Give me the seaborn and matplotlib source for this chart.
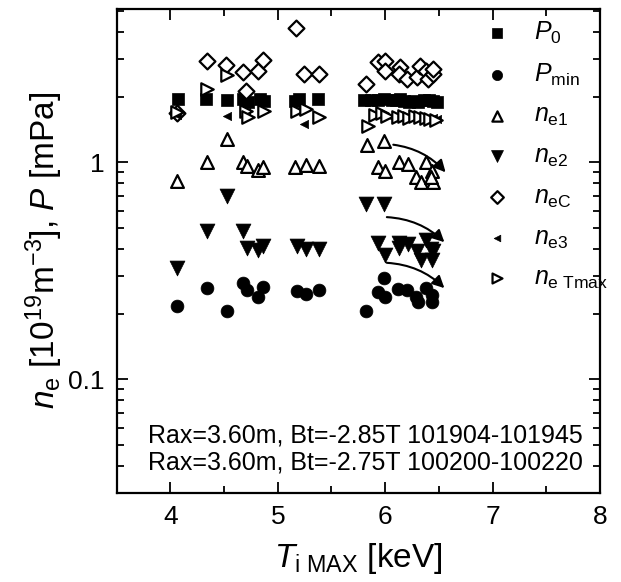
import matplotlib
matplotlib.use("Agg")
import matplotlib.pyplot as plt
from matplotlib.ticker import FixedLocator, MultipleLocator, NullFormatter, LogLocator
import seaborn as sns
import pandas as pd

# values (T_i,MAX [keV] vs density / pressure)
p0_x = [4.07, 4.33, 4.53, 4.68, 4.72, 4.83, 4.87, 5.16, 5.20, 5.37,
        5.80, 5.87, 5.93, 5.99, 6.06, 6.10, 6.14, 6.18, 6.22, 6.27, 6.31, 6.36, 6.41, 6.45, 6.48]
p0_y = [1.95, 1.96, 1.94, 1.96, 1.90, 1.95, 1.92, 1.92, 1.95, 1.96,
        1.93, 1.94, 1.94, 1.95, 1.93, 1.94, 1.95, 1.92, 1.90, 1.92, 1.90, 1.94, 1.93, 1.92, 1.90]

pmin_x = [4.06, 4.34, 4.53, 4.68, 4.71, 4.82, 4.86, 5.18, 5.26, 5.38,
          5.82, 5.93, 5.99, 6.00, 6.12, 6.20, 6.29, 6.31, 6.38, 6.44, 6.44]
pmin_y = [0.218, 0.264, 0.207, 0.279, 0.258, 0.240, 0.267, 0.255, 0.248, 0.258,
          0.207, 0.253, 0.293, 0.240, 0.260, 0.258, 0.240, 0.227, 0.264, 0.245, 0.227]

ne1_x = [4.06, 4.34, 4.53, 4.68, 4.71, 4.82, 4.86, 5.16, 5.26, 5.38,
         5.83, 5.99, 5.93, 6.00, 6.13, 6.21, 6.38, 6.29, 6.33, 6.44, 6.45, 6.43]
ne1_y = [0.82, 1.00, 1.28, 1.00, 0.96, 0.92, 0.95, 0.95, 0.97, 0.96,
         1.20, 1.25, 0.95, 0.91, 1.00, 0.98, 1.00, 0.86, 0.81, 0.91, 0.81, 0.86]

ne2_x = [4.06, 4.34, 4.53, 4.68, 4.71, 4.82, 4.86, 5.18, 5.26, 5.38,
         5.82, 5.99, 5.93, 6.00, 6.13, 6.13, 6.21, 6.38, 6.30, 6.33, 6.43, 6.44, 6.45]
ne2_y = [0.327, 0.485, 0.70, 0.485, 0.404, 0.396, 0.41, 0.41, 0.40, 0.40,
         0.64, 0.645, 0.426, 0.375, 0.426, 0.405, 0.42, 0.44, 0.39, 0.355, 0.40, 0.355, 0.39]

nec_x = [4.06, 4.34, 4.52, 4.68, 4.70, 4.82, 4.86, 5.17, 5.24, 5.38,
         5.82, 5.93, 6.00, 6.00, 6.14, 6.13, 6.20, 6.30, 6.32, 6.38, 6.40, 6.45, 6.45]
nec_y = [1.68, 2.93, 2.81, 2.61, 2.13, 2.64, 2.97, 4.17, 2.56, 2.56,
         2.30, 2.90, 2.93, 2.64, 2.75, 2.56, 2.42, 2.47, 2.78, 2.64, 2.42, 2.56, 2.70]

ne3_x = [4.06, 4.53, 4.70, 5.17, 5.24, 5.95, 6.05, 6.15, 6.25, 6.35, 6.45, 6.48]
ne3_y = [1.66, 1.63, 1.70, 1.72, 1.50, 1.65, 1.62, 1.62, 1.60, 1.60, 1.60, 1.58]

netmax_x = [4.06, 4.34, 4.53, 4.70, 4.72, 4.87, 5.18, 5.26, 5.38,
            5.84, 5.91, 5.97, 6.02, 6.12, 6.18, 6.22, 6.28, 6.32, 6.38, 6.42, 6.47]
netmax_y = [1.70, 2.18, 2.53, 1.72, 1.62, 1.72, 1.72, 1.76, 1.62,
            1.47, 1.66, 1.68, 1.64, 1.62, 1.64, 1.60, 1.63, 1.62, 1.60, 1.58, 1.57]

# trend arrows (start, end)
arrows = [((6.05, 1.21), (6.58, 0.88)),
          ((5.99, 0.56), (6.57, 0.42)),
          ((5.99, 0.345), (6.57, 0.258))]

notes = ["Rax=3.60m, Bt=-2.85T 101904-101945",
         "Rax=3.60m, Bt=-2.75T 100200-100220"]

series = [
    (p0_x, p0_y, r"$P_0$", "s", True, 70),
    (pmin_x, pmin_y, r"$P_\mathrm{min}$", "o", True, 85),
    (ne1_x, ne1_y, r"$n_\mathrm{e1}$", "^", False, 85),
    (ne2_x, ne2_y, r"$n_\mathrm{e2}$", "v", True, 115),
    (nec_x, nec_y, r"$n_\mathrm{eC}$", "D", False, 65),
    (ne3_x, ne3_y, r"$n_\mathrm{e3}$", "<", True, 35),
    (netmax_x, netmax_y, r"$n_\mathrm{e\ Tmax}$", ">", False, 80),
]

sns.set_style("ticks")
plt.rcParams["font.family"] = ["Liberation Sans", "DejaVu Sans"]
plt.rcParams["mathtext.fontset"] = "custom"
plt.rcParams["mathtext.rm"] = "Liberation Sans"
plt.rcParams["mathtext.it"] = "Liberation Sans:italic"
plt.rcParams["mathtext.bf"] = "Liberation Sans:bold"
for key in ["text.color", "axes.labelcolor", "xtick.color", "ytick.color", "axes.edgecolor"]:
    plt.rcParams[key] = "black"

fig = plt.figure(figsize=(6.21, 5.82), dpi=100)
ax = fig.add_axes([0.188, 0.153, 0.778, 0.832])

for xs, ys, lab, mk, filled, size in series:
    df = pd.DataFrame({"x": xs, "y": ys})
    if filled:
        sns.scatterplot(data=df, x="x", y="y", marker=mk, s=size, color="black",
                        edgecolor="black", linewidth=0.5, label=lab, ax=ax, zorder=3)
    else:
        sns.scatterplot(data=df, x="x", y="y", marker=mk, s=size, facecolor="white",
                        edgecolor="black", linewidth=1.6, label=lab, ax=ax, zorder=3)

for (x0, y0), (x1, y1) in arrows:
    ax.annotate("", xy=(x1, y1), xytext=(x0, y0),
                arrowprops=dict(arrowstyle="-|>", color="black", lw=1.5,
                                mutation_scale=18, connectionstyle="arc3,rad=-0.2"),
                zorder=4)

ax.set_yscale("log")
ax.set_xlim(3.5, 8)
ax.set_ylim(0.03, 5.1)
ax.xaxis.set_major_locator(MultipleLocator(1))
ax.xaxis.set_minor_locator(MultipleLocator(0.5))
ax.yaxis.set_major_locator(FixedLocator([0.1, 1]))
ax.yaxis.set_minor_locator(LogLocator(base=10, subs=range(2, 10)))
ax.yaxis.set_minor_formatter(NullFormatter())
ax.set_yticklabels(["0.1", "1"])

for side in ["top", "right", "bottom", "left"]:
    ax.spines[side].set_visible(True)
    ax.spines[side].set_linewidth(1.6)
    ax.spines[side].set_color("black")
ax.tick_params(which="both", direction="in", top=True, right=True, color="black", width=1.3)
ax.tick_params(which="major", length=8, labelsize=19, pad=9)
ax.tick_params(which="minor", length=5)

ax.set_xlabel(r"$T_\mathrm{i\ MAX}$ [keV]", fontsize=24, labelpad=8)
ax.set_ylabel(r"$n_\mathrm{e}$ [10$^{19}$m$^{-3}$], $P$ [mPa]", fontsize=24, labelpad=2)

ax.text(0.514, 0.118, notes[0], transform=ax.transAxes, ha="center", va="center", fontsize=18)
ax.text(0.514, 0.062, notes[1], transform=ax.transAxes, ha="center", va="center", fontsize=18)

ax.legend(loc="upper left", bbox_to_anchor=(0.704, 1.008), frameon=False, fontsize=18,
          handletextpad=0.5, labelspacing=0.62, markerscale=0.8, borderaxespad=0.2)

fig.savefig("out.png", dpi=100)
